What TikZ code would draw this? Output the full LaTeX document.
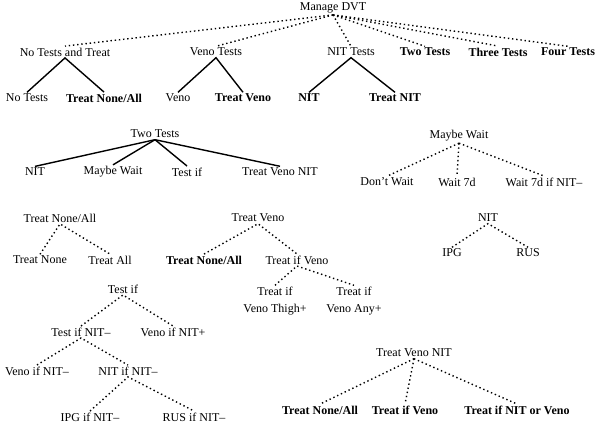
\documentclass[tikz,border=0pt]{standalone}
\usepackage{fontspec}
\setmainfont{Liberation Serif}
\usepackage{tikz}
\usetikzlibrary{positioning}
\tikzstyle{lbl}  = [inner sep=1.5pt, align=center,
                    font=\fontsize{12}{17}\selectfont]
\tikzstyle{blbl} = [lbl, font=\fontsize{12}{17}\selectfont\bfseries]
\tikzstyle{link} = [line width=1.4pt]
\tikzstyle{opt}  = [line width=1.4pt, dash pattern=on 1.4pt off 2.8pt]

\begin{document}
\begin{tikzpicture}[x=1pt, y=-1pt]
  \useasboundingbox (0,0) rectangle (602,431);
  % top level
  \node[lbl]  (dvt)    at (333,8)  {Manage DVT};
  \node[lbl]  (notest) at (65,52)  {No Tests and Treat};
  \node[lbl]  (veno)   at (216,52) {Veno Tests};
  \node[lbl]  (nit)    at (351,52) {NIT Tests};
  \node[blbl] (two)    at (425,52) {Two Tests};
  \node[blbl] (three)  at (498,52) {Three Tests};
  \node[blbl] (four)   at (568,52) {Four Tests};
  \foreach \c in {notest,veno,nit,two,three,four}
    \draw[opt] (dvt.south) -- (\c.north);

  \node[lbl]  (nt)   at (27,98)  {No Tests};
  \node[blbl] (tna)  at (104,98) {Treat None/All};
  \node[lbl]  (vn)   at (178,98) {Veno};
  \node[blbl] (tv)   at (243,98) {Treat Veno};
  \node[blbl] (nn)   at (309,98) {NIT};
  \node[blbl] (tn)   at (395,98) {Treat NIT};
  \draw[link] (nt.north)  -- (notest.south) -- (tna.north);
  \draw[link] (vn.north)  -- (veno.south)   -- (tv.north);
  \draw[link] (nn.north)  -- (nit.south)    -- (tn.north);

  % two tests
  \node[lbl] (tt)    at (155,134) {Two Tests};
  \node[lbl] (ttnit) at (35,172)  {NIT};
  \node[lbl] (ttmw)  at (113,172) {Maybe Wait};
  \node[lbl] (ttif)  at (187,172) {Test if};
  \node[lbl] (tttvn) at (280,172) {Treat Veno NIT};
  \foreach \c in {ttnit,ttmw,ttif,tttvn}
    \draw[link] (tt.south) -- (\c.north);

  % maybe wait
  \node[lbl] (mw)   at (459,136) {Maybe Wait};
  \node[lbl] (dw)   at (387,182) {Don't Wait};
  \node[lbl] (w7)   at (457,182) {Wait 7d};
  \node[lbl] (w7n)  at (544,182) {Wait 7d if NIT--};
  \foreach \c in {dw,w7,w7n}
    \draw[opt] (mw.south) -- (\c.north);

  % nit
  \node[lbl] (nitr) at (488,218) {NIT};
  \node[lbl] (ipg)  at (452,253) {IPG};
  \node[lbl] (rus)  at (528,253) {RUS};
  \draw[opt] (ipg.north) -- (nitr.south) -- (rus.north);

  % treat none/all
  \node[lbl] (tnar) at (60,218)  {Treat None/All};
  \node[lbl] (tnon) at (40,260)  {Treat None};
  \node[lbl] (tall) at (110,260) {Treat All};
  \draw[opt] (tnon.north) -- (tnar.south) -- (tall.north);

  % treat veno
  \node[lbl]  (tvr)  at (258,218) {Treat Veno};
  \node[blbl] (tvna) at (204,260) {Treat None/All};
  \node[lbl]  (tiv)  at (297,260) {Treat if Veno};
  \node[lbl]  (tvt)  at (275,301) {Treat if\\Veno Thigh+};
  \node[lbl]  (tva)  at (354,301) {Treat if\\Veno Any+};
  \draw[opt] (tvna.north) -- (tvr.south) -- (tiv.north);
  \draw[opt] (tvt.north)  -- (tiv.south) -- (tva.north);

  % test if
  \node[lbl] (ti)    at (123,289) {Test if};
  \node[lbl] (tin)   at (81,332)  {Test if NIT--};
  \node[lbl] (vnp)   at (173,332) {Veno if NIT+};
  \node[lbl] (vnm)   at (37,371)  {Veno if NIT--};
  \node[lbl] (nnm)   at (128,371) {NIT if NIT--};
  \node[lbl] (ipgm)  at (90,417)  {IPG if NIT--};
  \node[lbl] (rusm)  at (194,417) {RUS if NIT--};
  \draw[opt] (tin.north)  -- (ti.south)  -- (vnp.north);
  \draw[opt] (vnm.north)  -- (tin.south) -- (nnm.north);
  \draw[opt] (ipgm.north) -- (nnm.south) -- (rusm.north);

  % treat veno nit
  \node[lbl]  (tvn)   at (414,353) {Treat Veno NIT};
  \node[blbl] (tvnna) at (320,410) {Treat None/All};
  \node[blbl] (tvniv) at (405,410) {Treat if Veno};
  \node[blbl] (tvnnv) at (517,410) {Treat if NIT or Veno};
  \foreach \c in {tvnna,tvniv,tvnnv}
    \draw[opt] (tvn.south) -- (\c.north);
\end{tikzpicture}
\end{document}
